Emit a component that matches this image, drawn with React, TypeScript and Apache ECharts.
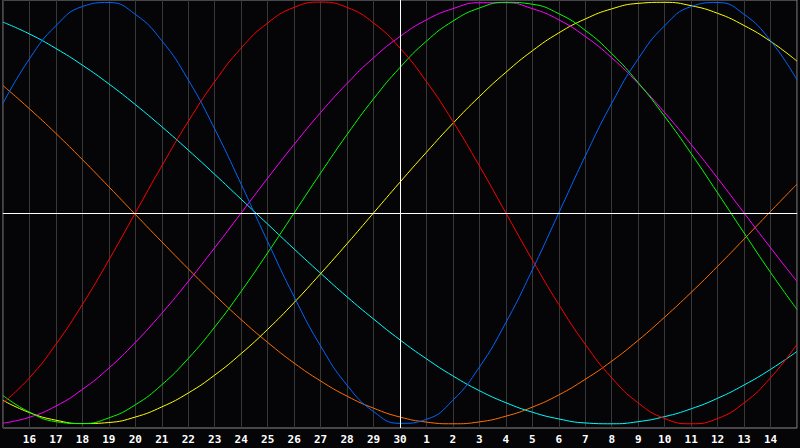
/**
 * Biorhythm chart: seven cycles over one month window
 */
import React, { useEffect, useRef } from 'react';
import * as echarts from 'echarts';

// x axis: day of month (first and last are edge points, their labels hidden)
const DAYS = [
  '15', '16', '17', '18', '19', '20', '21', '22', '23', '24', '25', '26', '27', '28', '29', '30',
  '1', '2', '3', '4', '5', '6', '7', '8', '9', '10', '11', '12', '13', '14', '15',
];

// values in percent
const PHYSICAL = [
  52.0, 73.1, 88.8, 97.9, 99.8, 94.2, 81.7, 63.1, 39.8, 13.6, -13.6, -39.8, -63.1, -81.7, -94.2, -99.8,
  -97.9, -88.8, -73.1, -52.0, -27.0, 0, 27.0, 52.0, 73.1, 88.8, 97.9, 99.8, 94.2, 81.7, 63.1,
];
const EMOTIONAL = [
  -90.1, -78.2, -62.3, -43.4, -22.3, 0, 22.3, 43.4, 62.3, 78.2, 90.1, 97.5, 100, 97.5, 90.1, 78.2,
  62.3, 43.4, 22.3, 0, -22.3, -43.4, -62.3, -78.2, -90.1, -97.5, -100, -97.5, -90.1, -78.2, -62.3,
];
const INTELLECTUAL = [
  -86.6, -94.5, -99.0, -99.9, -97.2, -91.0, -81.5, -69.0, -54.1, -37.2, -18.9, 0, 18.9, 37.2, 54.1, 69.0,
  81.5, 91.0, 97.2, 99.9, 99.0, 94.5, 86.6, 75.6, 61.8, 45.8, 28.2, 9.5, -9.5, -28.2, -45.8,
];
const INTUITIVE = [
  -99.7, -96.9, -91.6, -83.7, -73.6, -61.4, -47.6, -32.5, -16.5, 0, 16.5, 32.5, 47.6, 61.4, 73.6, 83.7,
  91.6, 96.9, 99.7, 99.7, 96.9, 91.6, 83.7, 73.6, 61.4, 47.6, 32.5, 16.5, 0, -16.5, -32.5,
];
const AESTHETIC = [
  -88.9, -94.7, -98.3, -99.9, -99.4, -96.8, -92.0, -85.4, -76.9, -66.7, -55.2, -42.5, -28.8, -14.6, 0, 14.6,
  28.8, 42.5, 55.2, 66.7, 76.9, 85.4, 92.0, 96.8, 99.4, 99.9, 98.3, 94.7, 88.9, 81.4, 72.0,
];
const AWARENESS = [
  60.4, 49.4, 37.7, 25.3, 12.4, -0.7, -13.7, -26.5, -38.9, -50.6, -61.4, -71.2, -79.7, -86.9, -92.6, -96.8,
  -99.2, -100, -99.1, -96.4, -92.1, -86.3, -78.9, -70.3, -60.4, -49.4, -37.7, -25.3, -12.4, 0.7, 13.7,
];
const SPIRITUAL = [
  90.5, 84.9, 78.0, 70.1, 61.2, 51.4, 40.9, 29.8, 18.3, 6.5, -5.3, -17.1, -28.6, -39.8, -50.3, -60.2,
  -69.2, -77.3, -84.3, -90.0, -94.5, -97.7, -99.6, -100, -99.0, -96.6, -92.9, -87.9, -81.6, -74.2, -65.7,
];

// index of "today" (the white vertical line)
const TODAY_INDEX = 15;

const CYCLES = [
  { name: 'Awareness', data: AWARENESS, color: '#ff7000' },
  { name: 'Spiritual', data: SPIRITUAL, color: '#00ffff' },
  { name: 'Aesthetic', data: AESTHETIC, color: '#ffff00' },
  { name: 'Intuitive', data: INTUITIVE, color: '#ff00ff' },
  { name: 'Intellectual', data: INTELLECTUAL, color: '#00ff00' },
  { name: 'Emotional', data: EMOTIONAL, color: '#ff0000' },
  { name: 'Physical', data: PHYSICAL, color: '#0066ff' },
];

const App: React.FC = () => {
  const chartRef = useRef<HTMLDivElement>(null);

  useEffect(() => {
    if (!chartRef.current) return;
    const chart = echarts.init(chartRef.current, null, { renderer: 'svg' });

    const series: any[] = CYCLES.map((c) => ({
      name: c.name,
      type: 'line',
      data: c.data,
      smooth: 0.5,
      symbol: 'none',
      lineStyle: { color: c.color, width: 1 },
      itemStyle: { color: c.color },
    }));

    // 零线和今天的白线
    series[0].markLine = {
      silent: true,
      symbol: 'none',
      label: { show: false },
      lineStyle: { color: '#ffffff', width: 1, type: 'solid' },
      data: [{ yAxis: 0 }, { xAxis: TODAY_INDEX }],
    };

    chart.setOption({
      animation: false,
      backgroundColor: '#050508',
      grid: {
        show: true,
        left: 0,
        right: 1,
        top: 0,
        bottom: 20,
        borderColor: '#8a8a8a',
        borderWidth: 1,
      },
      xAxis: {
        type: 'category',
        data: DAYS,
        boundaryGap: false,
        axisLine: { show: true, lineStyle: { color: '#9a9a9a', width: 1 } },
        axisTick: { show: false },
        splitLine: { show: true, lineStyle: { color: '#383838', width: 1 } },
        axisLabel: {
          interval: 0,
          showMinLabel: false,
          showMaxLabel: false,
          color: '#ffffff',
          fontFamily: 'DejaVu Sans Mono',
          fontWeight: 'bold',
          fontSize: 11,
          margin: 6,
          formatter: (v: string, i: number) => (i === 0 || i === DAYS.length - 1 ? '' : v),
        },
      },
      yAxis: {
        type: 'value',
        min: -102,
        max: 101,
        show: false,
        splitLine: { show: false },
      },
      series,
    });

    return () => {
      chart.dispose();
    };
  }, []);

  return (
    <div
      ref={chartRef}
      style={{ position: 'fixed', left: 0, top: 0, width: 800, height: 448 }}
    />
  );
};

export default App;
